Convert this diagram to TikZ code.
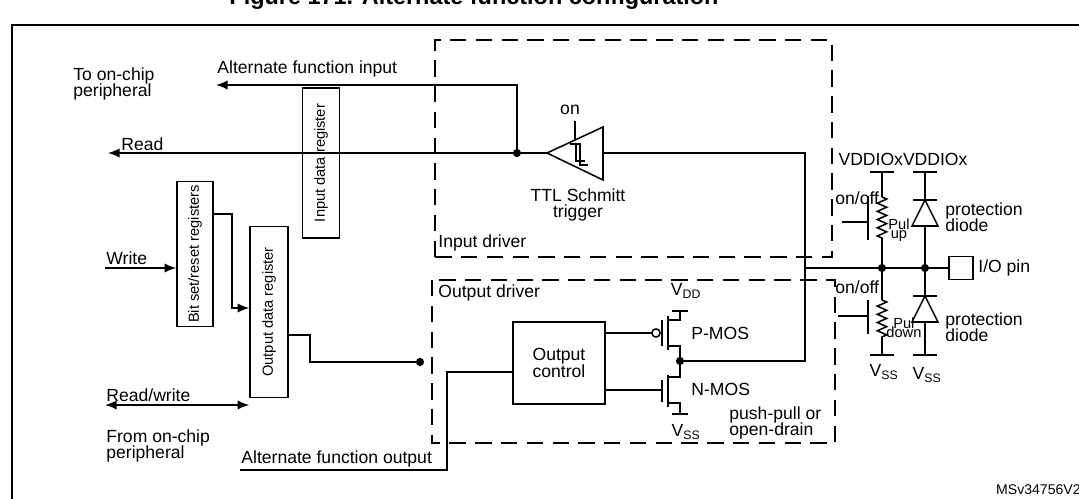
\documentclass[tikz,border=0pt]{standalone}
\usepackage{fontspec}
\setmainfont{Liberation Sans}
\usetikzlibrary{positioning,arrows.meta,decorations.pathmorphing,calc}
\newdimen\pgfxlen\pgfxlen=0.03cm
\tikzset{
  reg/.style={draw, line width=1.3pt, minimum width=37\pgfxlen, inner sep=0pt},
  reglbl/.style={rotate=90, font=\fontsize{12.5}{14}\selectfont},
  drv/.style={draw, line width=1.3pt, dash pattern=on 14pt off 8pt},
  wire/.style={line width=1.3pt},
  arr/.style={wire, -{Latex[length=10pt,width=8pt]}},
  dot/.style={circle, fill, inner sep=0pt, minimum size=7pt},
  lbl/.style={align=left, inner sep=1pt, font=\fontsize{15}{16}\selectfont},
  res/.style={wire, decorate, decoration={zigzag, segment length=7pt, amplitude=4pt}}
}
\begin{document}
\begin{tikzpicture}[x=0.03cm,y=-0.03cm, lbl]
\useasboundingbox (0,0) rectangle (1079,499);
\node[font=\bfseries\fontsize{20}{22}\selectfont] at (474,-2) {Figure 171. Alternate function configuration};
\draw[line width=1.6pt] (12,505) -- (12,25) -- (1090,25);
% driver boxes
\draw[drv] (435,257) -- (435,40) -- (832,40) -- (832,257) -- cycle;
\node[anchor=west] at (437,243) {Input driver};
\draw[drv] (432,280) rectangle (835,443);
\node[anchor=west] at (437,293) {Output driver};
\node[anchor=north west] at (728,405) {push-pull or\\[-2pt]open-drain};
% registers
\node[reg, minimum height=150\pgfxlen] (idr) at (321,163) {};
\node[reglbl] at (idr) {Input data register};
\node[reg, minimum height=145\pgfxlen, minimum width=36\pgfxlen] (bsr) at (195,254) {};
\node[reglbl] at (bsr) {Bit set/reset registers};
\node[reg, minimum height=171\pgfxlen, minimum width=38\pgfxlen] (odr) at (269,312) {};
\node[reglbl] at (odr) {Output data register};
\node[reg, minimum width=92\pgfxlen, minimum height=82\pgfxlen, align=center] (oc) at (559,363) {Output\\[-2pt]control};
% schmitt trigger
\coordinate (st) at (547,153);
\draw[wire] (st) -- (603,127) -- (603,180) -- cycle;
\draw[line width=0.9pt] (570,144) -- (580,144) -- (580,165) -- (588,165);
\draw[line width=0.9pt] (576,144) -- (576,161) -- (585,161);
\draw[wire] (575,121) -- (575,139);
\node at (570,110) {on};
\node[align=center] at (578,205) {TTL Schmitt\\[-2pt]trigger};
% input path
\node[dot] (ja) at (517,153) {};
\coordinate (rd) at (108,153);
\draw[arr] (st) -- (rd);
\node[anchor=south west] at (120,152) {Read};
\coordinate (afi) at (216,85);
\draw[arr] (ja) |- (afi);
\node[anchor=south west] at (216,79) {Alternate function input};
\node[anchor=west] at (72,84) {To on-chip\\[-2pt]peripheral};
\coordinate (bus) at (805,268);
\draw[wire] (603,153) -| (bus);
% write side
\coordinate (wr) at (105,268);
\draw[arr] (wr) -- (bsr.west |- wr);
\node[anchor=south west] at (105,266) {Write};
\draw[arr] ($(bsr.east)+(0,-40)$) -| (232,308) -- (odr.west |- 0,308);
\coordinate (rw) at (105,405);
\draw[wire, {Latex[length=10pt,width=8pt]}-{Latex[length=10pt,width=8pt]}] (rw) -- (odr.west |- rw);
\node[anchor=south west] at (105,403) {Read/write};
\node[anchor=west] at (105,446) {From on-chip\\[-2pt]peripheral};
\node[dot] (jo) at (420,362) {};
\draw[wire] ($(odr.east)+(0,23)$) -| (310,362) -- (jo);
\draw[wire] (240,470) -- (447,470) |- (oc.west |- 0,372);
\node[anchor=south west] at (240,469) {Alternate function output};
% MOS pair
\draw[wire] (oc.east |- 0,333) -- (652,333);
\draw[wire] (656,333) circle (3.5pt);
\draw[wire] (662,320) -- (662,346);
\draw[wire] (668,316) -- (668,350);
\draw[wire] (668,320) -- (680,320) -- (680,311);
\draw[wire] (672,311) -- (688,311);
\node at (686,291) {V\textsubscript{DD}};
\node[dot] (dr) at (680,361) {};
\draw[wire] (668,346) -- (680,346) -- (dr) -- (680,377) -- (668,377);
\node[anchor=west] at (690,333) {P-MOS};
\draw[wire] (oc.east |- 0,390) -- (662,390);
\draw[wire] (662,380) -- (662,402);
\draw[wire] (668,375) -- (668,407);
\draw[wire] (668,403) -- (680,403) -- (680,414);
\draw[wire] (672,414) -- (688,414);
\node at (686,432) {V\textsubscript{SS}};
\node[anchor=west] at (690,389) {N-MOS};
\draw[wire] (dr) -| (bus);
% pad side
\node[dot] (n1) at (882,268) {};
\node[dot] (n2) at (925,268) {};
\node[draw, wire, minimum width=24\pgfxlen, minimum height=23\pgfxlen, inner sep=0pt] (pin) at (961,268) {};
\node[anchor=west] at (977,268) {I/O pin};
\draw[wire] (bus) -- (n1) -- (n2) -- (pin);
% pull-up
\draw[wire] (870,172) -- (894,172);
\draw[wire] (913,172) -- (937,172);
\node at (903,159) {VDDIOxVDDIOx};
\draw[wire] (882,172) -- (882,197);
\draw[res] (882,197) -- (882,241);
\draw[wire] (882,241) -- (n1);
\draw[wire] (868,196) -- (868,240);
\draw[wire] (842,222) -- (868,222);
\node[anchor=west] at (834,198) {on/off};
\node[anchor=west, align=center, font=\fontsize{12.5}{13}\selectfont] at (887,230) {Pul\\[-5pt]up};
% pull-down
\draw[wire] (n1) -- (882,300);
\draw[res] (882,300) -- (882,337);
\draw[wire] (882,337) -- (882,355);
\draw[wire] (870,355) -- (894,355);
\draw[wire] (868,300) -- (868,334);
\draw[wire] (838,316) -- (868,316);
\node[anchor=west] at (834,287) {on/off};
\node[anchor=west, align=center, font=\fontsize{12.5}{13}\selectfont] at (885,328) {Pul\\[-5pt]down};
\node at (884,372) {V\textsubscript{SS}};
% diodes
\draw[wire] (925,172) -- (925,200);
\draw[wire] (913,200) -- (937,200);
\draw[wire] (925,200) -- (912,226) -- (938,226) -- cycle;
\draw[wire] (925,226) -- (n2);
\node[anchor=west] at (944,217) {protection\\[-2pt]diode};
\draw[wire] (n2) -- (925,296);
\draw[wire] (913,296) -- (937,296);
\draw[wire] (925,296) -- (912,322) -- (938,322) -- cycle;
\draw[wire] (925,322) -- (925,355);
\draw[wire] (913,355) -- (937,355);
\node[anchor=west] at (944,327) {protection\\[-2pt]diode};
\node at (927,375) {V\textsubscript{SS}};
\node[anchor=east, font=\fontsize{12}{14}\selectfont] at (1082,490) {MSv34756V2};
\end{tikzpicture}
\end{document}
